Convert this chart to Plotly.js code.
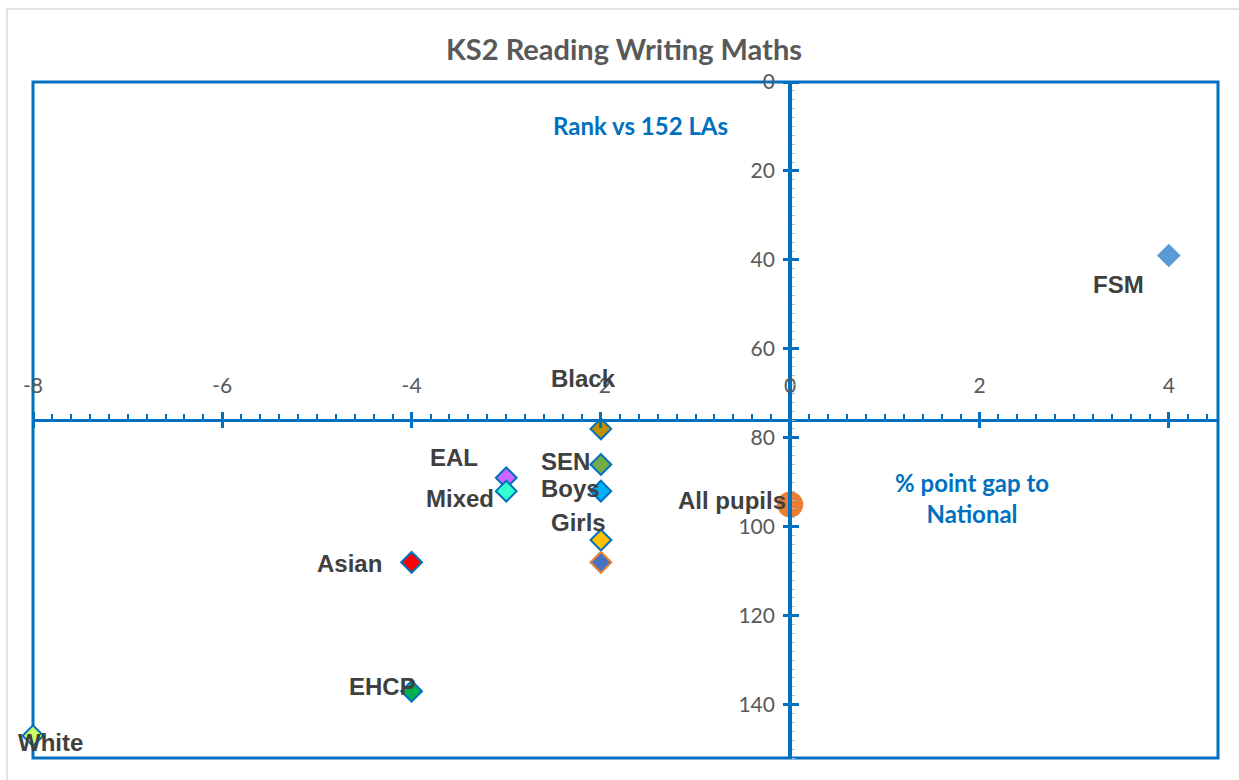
<!DOCTYPE html>
<html>
<head>
<meta charset="utf-8">
<script src="https://cdn.plot.ly/plotly-3.0.1.min.js"></script>
<style>html,body{margin:0;padding:0;background:#fff;}#chart{width:1239px;height:780px;}</style>
</head>
<body>
<div id="chart"></div>
<script>
// ---- data ----
const groups = ['FSM', 'Black', 'SEN', 'Boys', 'Girls', 'Unlabelled', 'EAL', 'Mixed', 'Asian', 'EHCP', 'White'];
const pointLabels = ['FSM', 'Black', 'SEN', 'Boys', 'Girls', '', 'EAL', 'Mixed', 'Asian', 'EHCP', 'White'];
const gapToNational = [4, -2, -2, -2, -2, -2, -3, -3, -4, -4, -8];
const rankVsLAs = [39, 78, 86, 92, 103, 108, 89, 92, 108, 137, 147];
const allPupilsLabel = 'All pupils';
const allPupilsGap = [0];
const allPupilsRank = [95];
const xTickVals = [-8, -6, -4, -2, 0, 2, 4];
const xTickText = ['-8', '-6', '-4', '-2', '0', '2', '4'];
const yTickVals = [0, 20, 40, 60, 80, 100, 120, 140];

// ---- styles ----
const fillColors = ['#5B9BD5', '#BF9000', '#70AD47', '#00B0F0', '#FFC000', '#4472C4', '#CC66FF', '#33FFCC', '#FF0000', '#00B050', '#CCFF66'];
const lineColors = ['#5B9BD5', '#0070C0', '#0070C0', '#0070C0', '#0070C0', '#ED7D31', '#0070C0', '#0070C0', '#0070C0', '#0070C0', '#0070C0'];
// label offsets in pixels [dx, dy(up)]
const labelShift = [[-50, -29], [-17, 50], [-35, 3], [-30, 3], [-22, 18], [0, 0], [-52, 20], [-46, -7], [-62, -1], [-29, 5], [17, -7]];
const allPupilsShift = [-58, 4];

const BLUE = '#0070C0';
const XR = [-8, 4.52];
const YR = [152, 0];
const yPos = (0 - XR[0]) / (XR[1] - XR[0]);
const xPos = (YR[0] - 76) / (YR[0] - YR[1]);

const traces = [
  {
    type: 'scatter', mode: 'markers', x: gapToNational, y: rankVsLAs, text: groups, cliponaxis: false,
    marker: { symbol: 'diamond', size: 16, color: fillColors, line: { color: lineColors, width: 2 } },
    hoverinfo: 'text+x+y', showlegend: false
  },
  {
    type: 'scatter', mode: 'markers', x: allPupilsGap, y: allPupilsRank, text: [allPupilsLabel], cliponaxis: false,
    marker: { symbol: 'circle', size: 26, color: '#ED7D31' },
    showlegend: false
  },
  { type: 'scatter', mode: 'markers', x: [], y: [], xaxis: 'x2', yaxis: 'y2', showlegend: false, hoverinfo: 'skip' }
];

const labelFont = { family: 'Liberation Sans, Arial, sans-serif', size: 24, color: '#404040', weight: 'bold' };
const annotations = [];
pointLabels.forEach((t, i) => {
  if (!t) return;
  annotations.push({
    x: gapToNational[i], y: rankVsLAs[i], xref: 'x', yref: 'y', text: '<b>' + t + '</b>',
    showarrow: false, xanchor: 'center', yanchor: 'middle',
    xshift: labelShift[i][0], yshift: labelShift[i][1], font: labelFont
  });
});
annotations.push({
  x: allPupilsGap[0], y: allPupilsRank[0], xref: 'x', yref: 'y', text: '<b>' + allPupilsLabel + '</b>',
  showarrow: false, xanchor: 'center', yanchor: 'middle',
  xshift: allPupilsShift[0], yshift: allPupilsShift[1], font: labelFont
});
const blueFont = { family: 'Lato, Carlito, sans-serif', size: 24, color: BLUE };
annotations.push({ xref: 'paper', yref: 'paper', x: 0.513, y: 0.935, text: '<b>Rank vs 152 LAs</b>', showarrow: false, xanchor: 'center', yanchor: 'middle', font: blueFont });
annotations.push({ xref: 'paper', yref: 'paper', x: 0.792, y: 0.384, text: '<b>% point gap to<br>National</b>', showarrow: false, xanchor: 'center', yanchor: 'middle', font: blueFont, align: 'center' });

const tickFont = { family: 'Lato, Carlito, sans-serif', size: 21, color: '#595959' };

const layout = {
  width: 1239, height: 780,
  margin: { l: 33, r: 21, t: 82, b: 22 },
  paper_bgcolor: '#ffffff', plot_bgcolor: '#ffffff',
  title: { text: '<b>KS2 Reading Writing Maths</b>', x: 624 / 1239, xref: 'container', xanchor: 'center', y: 1 - 50 / 780, yref: 'container', yanchor: 'middle',
    font: { family: 'Lato, Carlito, sans-serif', size: 29, color: '#595959' } },
  xaxis: {
    range: XR, anchor: 'free', position: xPos, side: 'top',
    showgrid: false, zeroline: false, showline: true, linecolor: BLUE, linewidth: 3,
    tickmode: 'array', tickvals: xTickVals, ticktext: xTickText, ticks: 'outside', ticklen: 7, tickwidth: 3, tickcolor: BLUE,
    ticklabelstandoff: 11, tickfont: tickFont,
    minor: { dtick: 0.2, ticks: 'outside', ticklen: 5, tickwidth: 2, tickcolor: BLUE, showgrid: false },
    fixedrange: true
  },
  xaxis2: {
    range: XR, overlaying: 'x', anchor: 'free', position: xPos, side: 'bottom',
    showgrid: false, zeroline: false, showline: false, showticklabels: false,
    tickmode: 'array', tickvals: xTickVals, ticks: 'outside', ticklen: 7, tickwidth: 3, tickcolor: BLUE
  },
  yaxis: {
    range: YR, anchor: 'free', position: yPos, side: 'left',
    showgrid: false, zeroline: false, showline: true, linecolor: BLUE, linewidth: 4,
    tickmode: 'array', tickvals: yTickVals, ticks: 'outside', ticklen: 5, tickwidth: 3, tickcolor: BLUE,
    ticklabelstandoff: 4, tickfont: tickFont,
    minor: { dtick: 2, ticks: 'inside', ticklen: 3, tickwidth: 1, tickcolor: '#9DC3E6', showgrid: false },
    fixedrange: true
  },
  yaxis2: {
    range: YR, overlaying: 'y', anchor: 'free', position: yPos, side: 'right',
    showgrid: false, zeroline: false, showline: false, showticklabels: false,
    tickmode: 'array', tickvals: yTickVals, ticks: 'outside', ticklen: 8, tickwidth: 3, tickcolor: BLUE
  },
  shapes: [
    { type: 'rect', xref: 'paper', yref: 'paper', x0: 0, x1: 1, y0: 0, y1: 1, line: { color: BLUE, width: 3 }, layer: 'below' },
    { type: 'rect', xref: 'paper', yref: 'paper', x0: (7 - 33) / 1185, x1: (1260 - 33) / 1185, y0: -0.1, y1: 1 + (82 - 9) / 676, line: { color: '#D9D9D9', width: 1.5 }, layer: 'below' }
  ],
  annotations: annotations,
  showlegend: false,
  hovermode: 'closest'
};

Plotly.newPlot('chart', traces, layout, { displayModeBar: false, staticPlot: true });
</script>
</body>
</html>
